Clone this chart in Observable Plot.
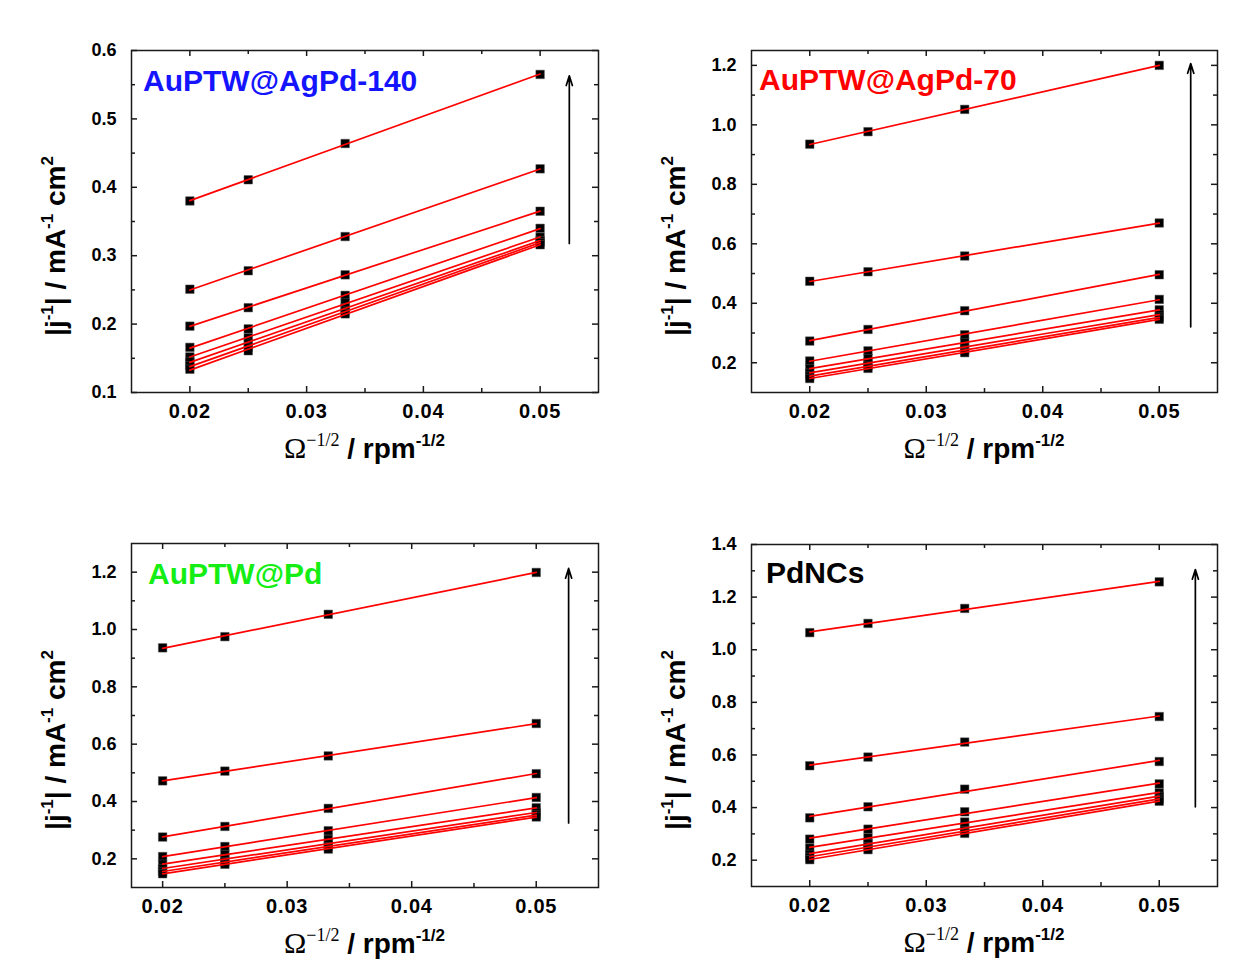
<!DOCTYPE html>
<html>
<head>
<meta charset="utf-8">
<script src="https://cdn.jsdelivr.net/npm/d3@7"></script>
<script src="https://cdn.jsdelivr.net/npm/@observablehq/plot@0.6"></script>
<style>
  body { margin: 0; background: #fff; }
  #wrap { position: relative; width: 1234px; height: 962px; background: #fff; }
  #wrap svg { position: absolute; }
</style>
</head>
<body>
<div id="wrap"></div>
<script>
// ---------- DATA ----------
// x values: Ω^-1/2 for 2500, 1600, 900, 400 rpm
const omegaInvSqrt = [0.02, 0.025, 0.0333, 0.05];

// |j^-1| values, one row per potential (bottom to top of arrow)
const seriesAgPd140 = [
  [0.380, 0.411, 0.464, 0.565],
  [0.251, 0.278, 0.328, 0.427],
  [0.197, 0.224, 0.272, 0.365],
  [0.166, 0.193, 0.242, 0.340],
  [0.152, 0.180, 0.231, 0.327],
  [0.145, 0.172, 0.224, 0.322],
  [0.139, 0.166, 0.219, 0.319],
  [0.134, 0.161, 0.215, 0.316]
];
const seriesAgPd70 = [
  [0.935, 0.977, 1.052, 1.200],
  [0.474, 0.506, 0.559, 0.670],
  [0.273, 0.312, 0.375, 0.496],
  [0.206, 0.240, 0.294, 0.413],
  [0.180, 0.214, 0.268, 0.378],
  [0.165, 0.200, 0.252, 0.362],
  [0.155, 0.189, 0.242, 0.353],
  [0.147, 0.181, 0.234, 0.346]
];
const seriesPd = [
  [0.936, 0.975, 1.053, 1.199],
  [0.472, 0.506, 0.559, 0.672],
  [0.276, 0.313, 0.376, 0.497],
  [0.208, 0.243, 0.298, 0.414],
  [0.181, 0.215, 0.268, 0.378],
  [0.166, 0.200, 0.252, 0.362],
  [0.156, 0.189, 0.242, 0.353],
  [0.148, 0.181, 0.234, 0.346]
];
const seriesPdNCs = [
  [1.065, 1.100, 1.157, 1.258],
  [0.559, 0.592, 0.649, 0.746],
  [0.361, 0.403, 0.470, 0.575],
  [0.280, 0.318, 0.384, 0.490],
  [0.246, 0.285, 0.345, 0.456],
  [0.222, 0.263, 0.325, 0.442],
  [0.211, 0.251, 0.312, 0.432],
  [0.202, 0.240, 0.302, 0.424]
];

const panelTitles = ["AuPTW@AgPd-140", "AuPTW@AgPd-70", "AuPTW@Pd", "PdNCs"];
const titleColors = ["#1414ff", "#ff0000", "#14ee14", "#000000"];

const xMajorTicks = [0.02, 0.03, 0.04, 0.05];
const xMinorTicks = [0.025, 0.035, 0.045];
const xDomains = [[0.015, 0.055], [0.015, 0.055], [0.0175, 0.055], [0.015, 0.055]];

const yDomains = [[0.1, 0.6], [0.1, 1.25], [0.1, 1.3], [0.1, 1.4]];
const yMajorTicks = [
  [0.1, 0.2, 0.3, 0.4, 0.5, 0.6],
  [0.2, 0.4, 0.6, 0.8, 1.0, 1.2],
  [0.2, 0.4, 0.6, 0.8, 1.0, 1.2],
  [0.2, 0.4, 0.6, 0.8, 1.0, 1.2, 1.4]
];
const yMinorTicks = [
  [0.15, 0.25, 0.35, 0.45, 0.55],
  [0.3, 0.5, 0.7, 0.9, 1.1],
  [0.3, 0.5, 0.7, 0.9, 1.1],
  [0.3, 0.5, 0.7, 0.9, 1.1, 1.3]
];

// trend arrows (x, from y1 to y2)
const trendArrows = [
  {x: 0.0525, y1: 0.318, y2: 0.563},
  {x: 0.0527, y1: 0.321, y2: 1.206},
  {x: 0.0526, y1: 0.325, y2: 1.213},
  {x: 0.0531, y1: 0.403, y2: 1.305}
];

// ---------- LAYOUT ----------
const layouts = [
  {left: 0,   top: 0,   w: 617, h: 481, ml: 131, mr: 19, mt: 50, mb: 89, tdx: 12, tdy: 41},
  {left: 617, top: 0,   w: 617, h: 481, ml: 134, mr: 17, mt: 50, mb: 89, tdx: 8,  tdy: 40},
  {left: 0,   top: 481, w: 617, h: 481, ml: 131, mr: 19, mt: 62, mb: 75, tdx: 17, tdy: 41},
  {left: 617, top: 481, w: 617, h: 481, ml: 134, mr: 17, mt: 63, mb: 76, tdx: 15, tdy: 39}
];
const allSeries = [seriesAgPd140, seriesAgPd70, seriesPd, seriesPdNCs];

const FONT = "Arial, 'Liberation Sans', Helvetica, sans-serif";
const SERIF = "'Times New Roman', 'Liberation Serif', serif";
const wrap = document.getElementById("wrap");

allSeries.forEach((series, p) => {
  const L = layouts[p];
  const iw = L.w - L.ml - L.mr;
  const ih = L.h - L.mt - L.mb;
  const rows = [];
  series.forEach((vals, s) => vals.forEach((v, i) => rows.push({x: omegaInvSqrt[i], y: v, s})));
  const tk = {stroke: "#1a1a1a", strokeWidth: 1.5};
  const id = d => d;

  const svg = Plot.plot({
    width: L.w, height: L.h,
    marginLeft: L.ml, marginRight: L.mr, marginTop: L.mt, marginBottom: L.mb,
    x: {domain: xDomains[p], label: null},
    y: {domain: yDomains[p], label: null},
    style: {fontFamily: FONT, background: "transparent", color: "#000", overflow: "visible"},
    marks: [
      Plot.axisX({ticks: xMajorTicks, tickSize: 0, tickPadding: 11, tickFormat: d3.format(".2f"),
                  fontSize: 20, fontWeight: "bold", label: null}),
      Plot.axisY({ticks: yMajorTicks[p], tickSize: 0, tickPadding: 15, tickFormat: d3.format(".1f"),
                  fontSize: 18, fontWeight: "bold", label: null}),
      // inward ticks on all four sides
      Plot.ruleX(xMajorTicks, {x: id, insetTop: ih - 6, ...tk}),
      Plot.ruleX(xMajorTicks, {x: id, insetBottom: ih - 6, ...tk}),
      Plot.ruleX(xMinorTicks, {x: id, insetTop: ih - 4, ...tk}),
      Plot.ruleX(xMinorTicks, {x: id, insetBottom: ih - 4, ...tk}),
      Plot.ruleY(yMajorTicks[p], {y: id, insetRight: iw - 6, ...tk}),
      Plot.ruleY(yMajorTicks[p], {y: id, insetLeft: iw - 6, ...tk}),
      Plot.ruleY(yMinorTicks[p], {y: id, insetRight: iw - 4, ...tk}),
      Plot.ruleY(yMinorTicks[p], {y: id, insetLeft: iw - 4, ...tk}),
      Plot.dot(rows, {x: "x", y: "y", symbol: "square", r: 4.8, fill: "#000", stroke: "#555", strokeWidth: 0.5}),
      Plot.linearRegressionY(rows, {x: "x", y: "y", z: "s", stroke: "#ff0000", strokeWidth: 1.7, ci: 0}),
      Plot.arrow([trendArrows[p]], {x1: "x", x2: "x", y1: "y1", y2: "y2", stroke: "#000",
                  strokeWidth: 1.7, headLength: 9, headAngle: 35}),
      Plot.frame({stroke: "#1a1a1a", strokeWidth: 1.5})
    ]
  });

  svg.style.left = L.left + "px";
  svg.style.top = L.top + "px";
  const s = d3.select(svg);
  s.selectAll('g[aria-label="x-axis tick label"] text').attr("letter-spacing", "0.8");

  // panel title
  s.append("text")
    .attr("x", L.ml + L.tdx).attr("y", L.mt + L.tdy)
    .attr("text-anchor", "start")
    .attr("font-family", FONT).attr("font-size", 30).attr("font-weight", "bold")
    .attr("fill", titleColors[p]).text(panelTitles[p]);

  // x-axis title: Ω^−1/2 / rpm^-1/2
  const xt = s.append("text")
    .attr("x", L.ml + iw / 2).attr("y", L.mt + ih + 66)
    .attr("text-anchor", "middle").attr("fill", "#000");
  xt.append("tspan").attr("font-family", SERIF).attr("font-size", 30).text("\u03A9");
  xt.append("tspan").attr("font-family", SERIF).attr("font-size", 18).attr("dy", -12).text("\u22121/2");
  xt.append("tspan").attr("font-family", FONT).attr("font-size", 28).attr("font-weight", "bold").attr("dy", 12).text(" / rpm");
  xt.append("tspan").attr("font-family", FONT).attr("font-size", 17).attr("font-weight", "bold").attr("dy", -12).text("-1/2");

  // y-axis title: |j^-1| / mA^-1 cm^2
  const yt = s.append("text")
    .attr("transform", `translate(${L.ml - 66},${L.mt + ih / 2 + 25}) rotate(-90)`)
    .attr("text-anchor", "middle").attr("fill", "#000")
    .attr("font-family", FONT).attr("font-weight", "bold");
  yt.append("tspan").attr("font-size", 28).text("|j");
  yt.append("tspan").attr("font-size", 17).attr("dy", -12).text("-1");
  yt.append("tspan").attr("font-size", 28).attr("dy", 12).text("| / mA");
  yt.append("tspan").attr("font-size", 17).attr("dy", -12).text("-1");
  yt.append("tspan").attr("font-size", 28).attr("dy", 12).text(" cm");
  yt.append("tspan").attr("font-size", 17).attr("dy", -12).text("2");

  wrap.appendChild(svg);
});
</script>
</body>
</html>
